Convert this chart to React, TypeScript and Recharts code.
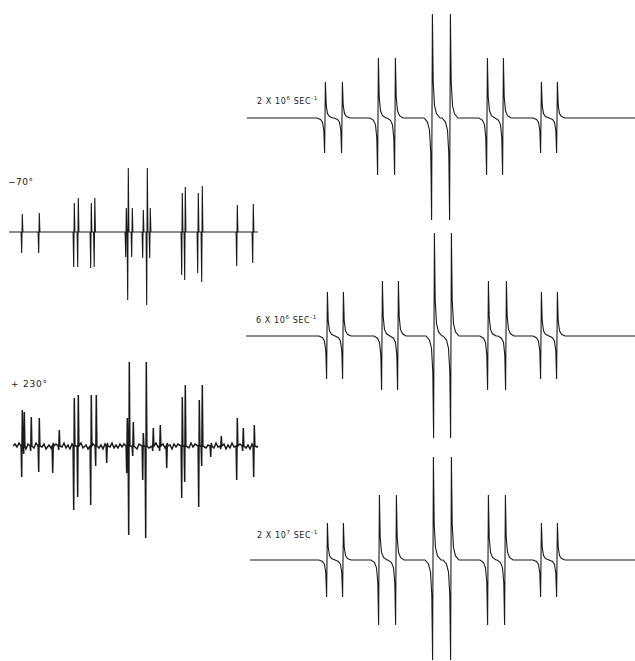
import { Line, LineChart, XAxis, YAxis } from 'recharts'

// field positions are in arbitrary units from the left end of each trace,
// amplitudes are the derivative excursions above (up) and below (down) the baseline

// experimental, -70°
const cold70Pos = [13, 30, 65, 69, 82, 85.5, 117, 119, 123, 134, 138, 141, 173, 176, 189, 193, 228, 244]
const cold70Up = [18, 19, 29, 34, 29, 34, 24, 64, 24, 22, 64, 24, 39, 45, 39, 46, 27, 28]
const cold70Down = [21, 21, 35, 35, 36, 35, 25, 68, 25, 26, 73, 26, 43, 48, 41, 50, 34, 31]

// experimental, +230° (noisy)
const hot230Pos = [13, 15, 22, 30, 44, 50, 65, 69, 82, 87, 98, 118, 120, 124, 134, 137, 144, 151, 158, 173, 176, 190, 193, 202, 212, 228, 234, 245]
const hot230Up = [36, 34, 29, 28, 3, 16, 48, 51, 51, 51, 3, 28, 84, 24, 13, 84, 18, 21, 3, 49, 61, 46, 61, 3, 10, 28, 18, 21]
const hot230Down = [31, 8, 5, 26, 27, 4, 64, 51, 59, 20, 17, 27, 89, 10, 34, 92, 5, 5, 22, 52, 36, 61, 20, 11, 3, 34, 5, 31]
// baseline noise of the +230° trace
const hot230NoisePos = [6, 8, 10, 17, 19, 25, 27, 33, 35, 37, 40, 42, 47, 53, 55, 57, 59, 61, 63, 72, 74, 77, 79, 84, 90, 92, 94, 96, 101, 103, 105, 107, 109, 111, 113, 115, 128, 130, 140, 147, 149, 154, 156, 161, 163, 165, 167, 169, 180, 182, 184, 186, 197, 199, 205, 207, 209, 215, 217, 219, 221, 223, 225, 231, 237, 239, 241, 243, 248]
const hot230NoiseVal = [2, -1, 3, -3, 2, -2, 3, -1, 2, -3, 1, -2, 2, -1, 3, -2, 1, -3, 2, 3, -2, 1, -3, 2, -2, 1, -3, 2, -1, 3, -2, 1, -2, 2, -1, 2, -3, 2, -2, 3, -1, 2, -2, 1, -3, 2, -1, 2, -2, 3, -1, 2, -2, 1, -2, 3, -1, 2, -3, 1, -2, 3, -1, 2, -2, 1, -3, 2, -1]

// simulated spectra, exchange rates
const rateLabels = ['2 X 10', '6 X 10', '2 X 10']
const rateExps = ['6', '6', '7']

const sim1Pos = [78, 95, 131, 148, 185, 203, 240, 256, 294, 310]
const sim1Up = [36, 36, 60, 60, 104, 104, 60, 60, 36, 36]
const sim1Down = [35, 35, 57, 57, 102, 102, 57, 57, 35, 35]

const sim2Pos = [80, 96, 135, 151, 187, 204, 241, 259, 294, 310]
const sim2Up = [44, 44, 55, 55, 103, 103, 55, 55, 44, 44]
const sim2Down = [43, 43, 54, 54, 102, 102, 54, 54, 43, 43]

const sim3Pos = [80, 96, 132, 149, 186, 204, 241, 258, 294, 310]
const sim3Up = [37, 37, 65, 65, 103, 103, 65, 65, 37, 37]
const sim3Down = [37, 37, 65, 65, 100, 100, 65, 65, 37, 37]

// line shapes: offset from line centre, fraction of the excursion
const simOffsets = [-8, -4.5, -2.5, -1.2, -0.4, 0.4, 1.2, 2.5, 4.5, 8]
const simFractions = [0, -0.04, -0.12, -0.35, -1, 1, 0.35, 0.12, 0.04, 0]
const expOffsets = [-0.9, -0.3, 0.3, 0.9]
const expFractions = [0, -1, 1, 0]

type Pt = { x: number; y: number }

function buildTrace(
  start: number,
  end: number,
  pos: number[],
  up: number[],
  down: number[],
  offs: number[],
  frac: number[],
  extraPos: number[] = [],
  extraVal: number[] = [],
): Pt[] {
  const pts: Pt[] = [{ x: start, y: 0 }]
  pos.forEach((p, i) => {
    offs.forEach((o, j) => {
      const f = frac[j]
      pts.push({ x: p + o, y: f < 0 ? f * down[i] : f * up[i] })
    })
  })
  extraPos.forEach((p, i) => pts.push({ x: p, y: extraVal[i] }))
  pts.push({ x: end, y: 0 })
  return pts.sort((a, b) => a.x - b.x)
}

const INK = '#1a1a1a'
const LABEL_FONT = '"DejaVu Sans", "Liberation Sans", sans-serif'

function Trace(props: {
  data: Pt[]
  left: number
  top: number
  width: number
  half: number
  domain: [number, number]
  strokeWidth?: number
}) {
  const { data, left, top, width, half, domain, strokeWidth } = props
  return (
    <div style={{ position: 'absolute', left, top }}>
      <LineChart
        width={width}
        height={half * 2}
        data={data}
        margin={{ top: 0, right: 0, bottom: 0, left: 0 }}
        style={{ overflow: 'visible' }}
      >
        <XAxis type="number" dataKey="x" domain={domain} hide allowDataOverflow />
        <YAxis type="number" domain={[-half, half]} hide allowDataOverflow />
        <Line
          type="linear"
          dataKey="y"
          stroke={INK}
          strokeWidth={strokeWidth ?? 1.1}
          dot={false}
          isAnimationActive={false}
        />
      </LineChart>
    </div>
  )
}

function RateLabel({ i, left, top }: { i: number; left: number; top: number }) {
  return (
    <div
      style={{
        position: 'absolute',
        left,
        top,
        fontFamily: LABEL_FONT,
        fontSize: 8,
        letterSpacing: 0.6,
        color: INK,
        whiteSpace: 'nowrap',
        lineHeight: '10px',
      }}
    >
      {rateLabels[i]}
      <sup style={{ fontSize: 5.5 }}>{rateExps[i]}</sup> SEC<sup style={{ fontSize: 5.5 }}>-1</sup>
    </div>
  )
}

export default function App() {
  const cold = buildTrace(0, 249, cold70Pos, cold70Up, cold70Down, expOffsets, expFractions)
  const hot = buildTrace(
    4,
    249,
    hot230Pos,
    hot230Up,
    hot230Down,
    expOffsets,
    expFractions,
    hot230NoisePos,
    hot230NoiseVal,
  )
  const s1 = buildTrace(0, 388, sim1Pos, sim1Up, sim1Down, simOffsets, simFractions)
  const s2 = buildTrace(-1, 388, sim2Pos, sim2Up, sim2Down, simOffsets, simFractions)
  const s3 = buildTrace(3, 388, sim3Pos, sim3Up, sim3Down, simOffsets, simFractions)

  return (
    <div
      style={{
        position: 'absolute',
        left: 0,
        top: 0,
        width: 635,
        height: 661,
        background: '#fff',
        overflow: 'hidden',
      }}
    >
      <Trace data={cold} left={9} top={152} width={250} half={80} domain={[0, 250]} />
      <Trace data={hot} left={9} top={346} width={250} half={100} domain={[0, 250]} strokeWidth={1.5} />
      <Trace data={s1} left={245} top={8} width={390} half={110} domain={[-2, 388]} />
      <Trace data={s2} left={245} top={226} width={390} half={110} domain={[-2, 388]} />
      <Trace data={s3} left={245} top={455} width={390} half={105} domain={[-2, 388]} />

      <div
        style={{
          position: 'absolute',
          left: 8,
          top: 177,
          fontFamily: LABEL_FONT,
          fontSize: 9,
          letterSpacing: 0.5,
          color: INK,
        }}
      >
        −70°
      </div>
      <div
        style={{
          position: 'absolute',
          left: 11,
          top: 379,
          fontFamily: LABEL_FONT,
          fontSize: 9,
          letterSpacing: 0.8,
          color: INK,
        }}
      >
        + 230°
      </div>
      <RateLabel i={0} left={257} top={93} />
      <RateLabel i={1} left={256} top={312} />
      <RateLabel i={2} left={257} top={527} />
    </div>
  )
}
